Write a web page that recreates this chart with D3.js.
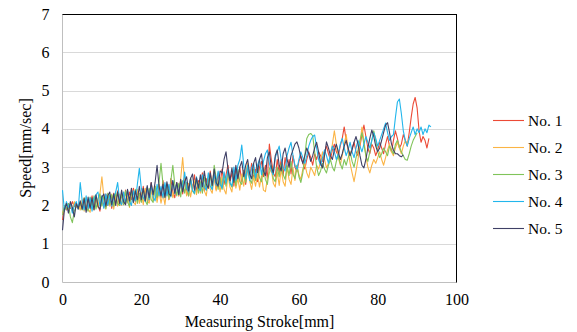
<!DOCTYPE html>
<html>
<head>
<meta charset="utf-8">
<script src="https://cdn.jsdelivr.net/npm/d3@7"></script>
<style>
  html, body { margin: 0; padding: 0; background: #fff; }
  svg { display: block; }
  text { font-family: "Liberation Serif", "Times New Roman", serif; fill: #000; }
</style>
</head>
<body>
<svg id="chart" width="577" height="332"></svg>
<script>
// Speed samples, one every 0.5 mm of stroke, starting at 0 mm
const strokeStep = 0.5;

const seriesNames = ["No. 1", "No. 2", "No. 3", "No. 4", "No. 5"];
const seriesColors = ["#ec4a36", "#fbb445", "#80c45a", "#22b6ec", "#3f4066"];

const no1 = [
  1.62, 1.95, 1.88, 2.05, 1.92, 2.1, 1.97, 2.02, 1.9, 2.08,
  1.92, 2.2, 1.88, 2.15, 1.95, 2.25, 1.9, 2.18, 2.0, 1.85,
  2.25, 1.95, 2.3, 2.0, 2.2, 1.92, 2.32, 2.05, 2.38, 2.0,
  2.3, 2.02, 2.4, 2.1, 2.35, 2.15, 2.45, 2.1, 2.38, 2.2,
  2.12, 2.5, 2.2, 2.45, 2.1, 2.6, 2.25, 2.5, 2.15, 2.55,
  2.2, 2.65, 2.3, 2.55, 2.15, 2.7, 2.35, 2.2, 2.6, 2.25,
  2.65, 2.3, 2.75, 2.4, 2.25, 2.7, 2.42, 2.8, 2.35, 2.65,
  2.45, 2.85, 2.38, 2.7, 2.45, 2.9, 2.5, 2.78, 2.42, 2.85,
  2.55, 2.95, 2.55, 2.8, 3.05, 2.6, 2.85, 2.5, 2.95, 2.65,
  3.0, 2.62, 2.92, 2.55, 3.05, 2.7, 3.1, 2.68, 2.95, 2.62,
  3.0, 3.15, 2.75, 3.05, 2.7, 3.6, 3.2, 2.85, 2.75, 3.2,
  2.85, 3.2, 2.78, 3.25, 2.9, 3.2, 2.82, 3.3, 3.0, 2.88,
  3.15, 3.3, 3.1, 2.95, 3.2, 3.4, 3.25, 3.05, 3.35, 3.2,
  3.4, 3.3, 3.15, 3.4, 3.55, 3.35, 3.2, 3.45, 3.6, 3.4,
  3.3, 3.55, 3.75, 4.05, 3.7, 3.45, 3.3, 3.5, 3.65, 3.4,
  3.3, 3.55, 3.85, 4.1, 3.8, 3.5, 3.35, 3.6, 3.5, 3.3,
  3.45, 3.65, 3.5, 3.35, 3.6, 3.8, 3.55, 3.4, 3.7, 3.95,
  3.75, 3.5, 3.6, 3.85, 3.7, 3.55, 3.9, 4.3, 4.65, 4.82,
  4.55, 3.95, 3.65, 3.8, 3.7, 3.5, 3.75
];

const no2 = [
  1.8, 1.95, 2.05, 1.9, 2.0, 1.85, 2.1, 1.95, 2.02, 1.88,
  2.15, 1.85, 2.2, 1.9, 1.82, 2.18, 1.88, 2.25, 1.95, 2.3,
  2.75, 2.2, 1.9, 2.2, 1.98, 2.3, 1.9, 2.25, 1.98, 2.3,
  2.0, 2.35, 2.02, 2.3, 1.95, 2.4, 2.08, 2.02, 2.42, 2.05,
  2.35, 2.02, 2.45, 2.1, 2.06, 2.4, 2.12, 2.5, 2.08, 2.38,
  2.06, 2.3, 2.02, 2.45, 2.15, 2.52, 2.2, 2.42, 2.55, 2.25,
  2.7, 3.25, 2.6, 2.25, 2.58, 2.22, 2.5, 2.65, 2.28, 2.6,
  2.32, 2.68, 2.38, 2.25, 2.7, 2.42, 2.32, 2.78, 2.38, 2.65,
  2.35, 2.75, 2.42, 2.3, 2.8, 2.48, 2.35, 2.82, 2.45, 2.7,
  2.4, 2.82, 2.5, 2.88, 3.1, 2.65, 2.42, 2.75, 2.5, 2.82,
  2.48, 2.78, 2.4, 2.36, 2.7, 2.85, 2.95, 2.58, 2.48, 2.88,
  2.52, 2.95, 2.62, 2.5, 3.0, 2.68, 2.55, 2.98, 2.65, 3.05,
  2.8, 2.68, 2.95, 3.1, 2.85, 2.72, 3.0, 2.9, 2.78, 3.05,
  2.95, 3.15, 3.4, 3.2, 2.98, 3.1, 3.3, 3.6, 3.95, 3.6,
  3.25, 3.05, 3.3, 3.6, 3.85, 3.45, 3.1, 2.85, 2.62, 2.9,
  3.2, 3.6, 4.05, 3.7, 3.3, 3.0, 2.85, 3.05, 3.2, 3.1,
  3.25, 3.4, 3.2, 3.05, 3.25, 3.45, 3.6, 3.4, 3.3, 3.5,
  3.65, 3.5, 3.35, 3.55, 3.7, 3.6, 3.75
];

const no3 = [
  1.75, 2.0, 1.9, 2.05, 1.7, 1.55, 1.85, 2.0, 1.92, 2.08,
  1.88, 2.2, 1.95, 1.85, 2.22, 1.95, 2.25, 1.9, 2.18, 2.3,
  1.98, 2.25, 1.92, 2.32, 2.02, 2.28, 1.98, 2.35, 2.05, 2.0,
  2.3, 2.02, 2.38, 2.08, 1.98, 2.35, 2.1, 2.42, 2.05, 2.32,
  2.08, 2.42, 2.12, 2.02, 2.45, 2.15, 2.08, 2.5, 2.2, 2.6,
  3.1, 2.55, 2.22, 2.55, 2.18, 2.65, 3.05, 2.55, 2.25, 2.58,
  2.22, 2.65, 2.32, 2.6, 2.25, 2.72, 2.38, 2.3, 2.7, 2.32,
  2.62, 2.32, 2.75, 2.4, 2.65, 2.8, 2.42, 3.05, 2.72, 2.42,
  2.72, 2.42, 2.82, 2.5, 2.92, 2.58, 2.48, 2.85, 2.52, 2.95,
  2.62, 2.55, 2.9, 2.6, 3.0, 2.68, 2.58, 2.95, 2.65, 3.05,
  2.72, 2.62, 2.98, 2.68, 2.55, 2.95, 3.05, 2.7, 2.62, 3.0,
  2.75, 3.1, 2.8, 2.68, 3.05, 2.78, 3.15, 2.82, 2.7, 3.05,
  2.75, 2.6, 2.85, 3.3, 3.75, 3.85, 3.88, 3.82, 3.4, 3.0,
  2.78, 2.9, 3.1, 2.95, 2.85, 3.05, 3.2, 3.0, 2.9, 3.15,
  3.3, 3.1, 2.95, 3.2, 3.05, 3.25, 3.4, 3.15, 3.0, 3.25,
  3.45, 3.7, 3.9, 3.6, 3.3, 3.15, 3.4, 3.7, 3.95, 3.7,
  3.4, 3.25, 3.35, 3.5, 3.4, 3.3, 3.55, 3.45, 3.35, 3.6,
  3.7, 3.55, 3.4, 3.3, 3.2, 3.18, 3.35, 3.55, 3.7, 3.8,
  3.9
];

const no4 = [
  2.4, 1.85, 2.1, 1.95, 2.05, 1.8, 2.0, 2.1, 1.9, 2.6,
  2.12, 1.88, 2.25, 1.92, 2.2, 1.85, 2.18, 2.28, 2.35, 1.98,
  2.25, 1.92, 2.3, 2.0, 2.28, 1.98, 2.22, 2.35, 2.6, 2.12,
  2.02, 2.35, 2.05, 2.4, 2.1, 2.0, 2.38, 2.12, 2.55, 2.97,
  2.45, 2.2, 2.1, 2.48, 2.15, 2.52, 2.22, 2.12, 2.55, 2.25,
  2.5, 2.2, 2.6, 2.25, 2.55, 2.22, 2.65, 2.3, 2.58, 2.28,
  2.6, 2.45, 2.87, 2.45, 2.35, 2.7, 2.4, 2.32, 2.75, 2.45,
  2.38, 2.8, 2.48, 2.4, 2.85, 2.5, 2.42, 2.82, 2.52, 2.9,
  2.55, 2.45, 2.88, 2.58, 2.95, 2.6, 2.5, 3.0, 2.65, 3.05,
  3.2, 3.58, 3.05, 2.7, 3.05, 2.65, 2.98, 3.1, 2.72, 3.05,
  3.2, 2.8, 3.15, 3.35, 3.45, 3.1, 2.9, 2.8, 3.25, 3.4,
  3.55, 3.2, 3.0, 2.9, 3.3, 3.5, 3.65, 3.3, 3.05, 2.95,
  3.2, 3.4, 3.25, 3.1, 3.3, 3.55, 3.7, 3.8, 3.84, 3.5,
  3.2, 3.05, 3.25, 3.45, 3.3, 3.1, 3.35, 3.55, 3.4, 3.2,
  3.35, 3.6, 3.75, 3.5, 3.3, 3.45, 3.65, 3.4, 3.25, 3.5,
  3.7, 3.55, 3.4, 3.6, 3.8, 3.65, 3.5, 3.7, 3.9, 3.75,
  3.55, 3.7, 3.85, 4.0, 4.15, 3.9, 3.7, 3.8, 3.85, 4.3,
  4.7, 4.78, 4.4, 3.95, 3.7, 3.55, 3.75, 3.9, 4.05, 3.85,
  4.0, 3.9, 4.05, 3.85, 4.0, 3.9, 4.1, 4.05
];

const no5 = [
  1.35, 1.9, 2.05, 1.8, 2.1, 1.95, 1.7, 2.05, 1.92, 2.12,
  1.9, 2.18, 1.82, 2.22, 1.92, 2.2, 1.88, 2.28, 1.98, 1.9,
  2.22, 2.3, 1.98, 2.25, 2.35, 2.02, 2.3, 2.0, 2.35, 2.05,
  2.4, 2.1, 2.02, 2.42, 2.12, 2.45, 2.08, 2.38, 2.15, 2.5,
  2.15, 2.45, 2.12, 2.52, 2.2, 2.6, 2.28, 2.6, 3.05, 2.5,
  2.25, 2.55, 2.2, 2.62, 2.3, 2.25, 2.65, 2.32, 2.6, 2.28,
  2.68, 2.35, 2.62, 2.75, 2.38, 2.7, 2.82, 2.4, 2.72, 2.45,
  2.8, 2.48, 2.9, 2.55, 2.45, 2.85, 2.52, 2.95, 2.6, 2.5,
  2.9, 2.85, 3.2, 3.4, 2.95, 2.65, 2.98, 2.6, 3.05, 2.7,
  3.0, 3.15, 2.75, 3.05, 3.2, 2.82, 2.7, 3.1, 3.25, 2.85,
  3.2, 3.35, 2.9, 2.78, 3.25, 3.4, 3.0, 2.85, 3.3, 3.45,
  3.05, 2.9, 3.35, 3.5, 3.2, 3.0, 3.3, 3.45, 3.6, 3.66,
  3.5, 3.25, 3.1, 3.3, 3.5, 3.35, 3.15, 3.3, 3.5, 3.65,
  3.4, 3.1, 2.98, 3.3, 3.66, 3.5, 3.3, 3.2, 3.45, 3.6,
  3.4, 3.2, 3.35, 3.55, 3.7, 3.5, 3.3, 3.45, 3.65, 3.8,
  3.6, 3.3, 3.05, 2.98, 3.2, 3.5, 3.75, 3.97, 3.8, 3.55,
  3.4, 3.5, 3.7, 3.9, 4.1, 4.16, 3.9, 3.6, 3.45, 3.35,
  3.35, 3.3, 3.27, 3.32
];

const seriesValues = [no1, no2, no3, no4, no5];
const xTicks = [0, 20, 40, 60, 80, 100];
const yTicks = [0, 1, 2, 3, 4, 5, 6, 7];

const svg = d3.select("#chart");
const plot = { left: 62.5, top: 14, width: 394, height: 268 };

const x = d3.scaleLinear().domain([0, 100]).range([plot.left, plot.left + plot.width]);
const y = d3.scaleLinear().domain([0, 7]).range([plot.top + plot.height, plot.top]);

// horizontal gridlines
svg.append("g")
  .selectAll("line")
  .data(yTicks.filter(d => d > 0 && d < 7))
  .join("line")
  .attr("x1", plot.left).attr("x2", plot.left + plot.width)
  .attr("y1", d => Math.round(y(d)) + 0.5).attr("y2", d => Math.round(y(d)) + 0.5)
  .attr("stroke", "#d9d9d9").attr("stroke-width", 1);

// plot frame: grey left/bottom axes, dark top/right edges
svg.append("line")
  .attr("x1", plot.left).attr("x2", plot.left)
  .attr("y1", plot.top).attr("y2", plot.top + plot.height + 0.5)
  .attr("stroke", "#bfbfbf").attr("stroke-width", 1);
svg.append("line")
  .attr("x1", plot.left).attr("x2", plot.left + plot.width)
  .attr("y1", Math.round(y(0)) + 0.5).attr("y2", Math.round(y(0)) + 0.5)
  .attr("stroke", "#bfbfbf").attr("stroke-width", 1);
svg.append("line")
  .attr("x1", plot.left).attr("x2", plot.left + plot.width + 0.5)
  .attr("y1", Math.round(y(7)) + 0.5).attr("y2", Math.round(y(7)) + 0.5)
  .attr("stroke", "#000").attr("stroke-width", 1);
svg.append("line")
  .attr("x1", plot.left + plot.width).attr("x2", plot.left + plot.width)
  .attr("y1", plot.top).attr("y2", plot.top + plot.height + 0.5)
  .attr("stroke", "#000").attr("stroke-width", 1);

// axes (labels only; the frame lines are drawn above)
const yAxis = d3.axisLeft(y).tickValues(yTicks).tickSize(0).tickPadding(13).tickFormat(d3.format("d"));
const gy = svg.append("g").attr("transform", `translate(${plot.left},0)`).call(yAxis);
gy.select(".domain").remove();
gy.selectAll("text").attr("font-size", 16).attr("font-family", "Liberation Serif").attr("fill", "#000");

const xAxis = d3.axisBottom(x).tickValues(xTicks).tickSize(0).tickPadding(12).tickFormat(d3.format("d"));
const gx = svg.append("g").attr("transform", `translate(0,${plot.top + plot.height})`).call(xAxis);
gx.select(".domain").remove();
gx.selectAll("text").attr("font-size", 16).attr("font-family", "Liberation Serif").attr("fill", "#000");

// axis titles
svg.append("text")
  .attr("x", plot.left + plot.width / 2).attr("y", 327)
  .attr("text-anchor", "middle").attr("font-size", 16)
  .text("Measuring Stroke[mm]");
svg.append("text")
  .attr("transform", `translate(31,${plot.top + plot.height / 2}) rotate(-90)`)
  .attr("text-anchor", "middle").attr("font-size", 16)
  .text("Speed[mm/sec]");

// series lines
const line = d3.line()
  .x((d, i) => x(i * strokeStep))
  .y(d => y(d));

svg.append("g")
  .selectAll("path")
  .data(seriesValues)
  .join("path")
  .attr("d", d => line(d))
  .attr("fill", "none")
  .attr("stroke", (d, i) => seriesColors[i])
  .attr("stroke-width", 1.1)
  .attr("stroke-linejoin", "round");

// legend
const legend = svg.append("g")
  .selectAll("g")
  .data(seriesNames)
  .join("g")
  .attr("transform", (d, i) => `translate(493,${120.5 + i * 27})`);
legend.append("line")
  .attr("x1", 0).attr("x2", 31).attr("y1", 0).attr("y2", 0)
  .attr("stroke", (d, i) => seriesColors[i]).attr("stroke-width", 1.1);
legend.append("text")
  .attr("x", 35).attr("y", 5.5)
  .attr("font-size", 15.5)
  .text(d => d);
</script>
</body>
</html>
